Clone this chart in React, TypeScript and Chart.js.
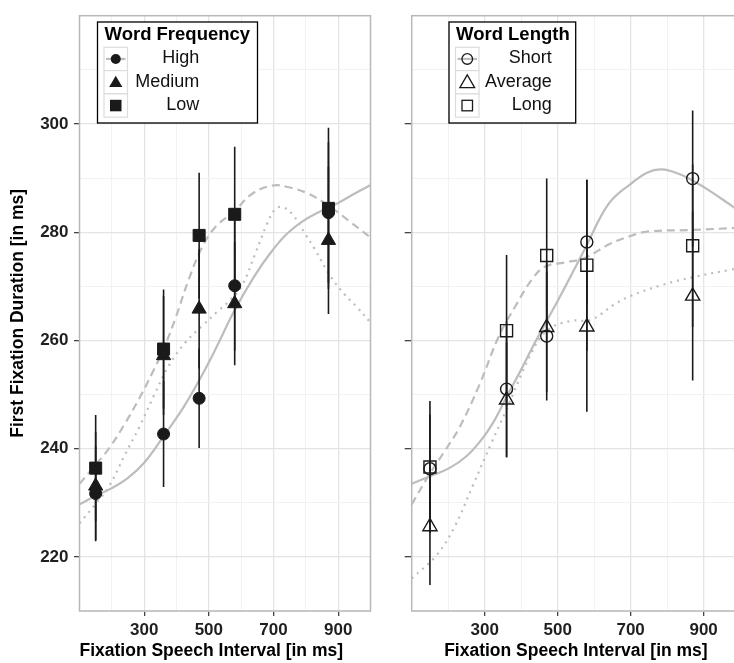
import React, { useEffect, useRef } from 'react';
import { Chart, registerables } from 'chart.js';

Chart.register(...registerables);

const FONT = "'Liberation Sans', Arial, Helvetica, sans-serif";
const INK = '#1a1a1a';
const FIT = '#bdbdbd';
const TEXT = '#1f1f1f';

// ---------- data ----------
const intervals = [150, 360, 470, 580, 870];
const xTickLabels = [300, 500, 700, 900];
const yTickLabels = [220, 240, 260, 280, 300];

// Word Frequency panel
const freqLabels = ['High', 'Medium', 'Low'];
const freqHigh = [231.7, 242.7, 249.3, 270.1, 283.6];
const freqHighErr = [8.8, 9.8, 9.2, 12, 13];
const freqMedium = [233.1, 257.2, 265.8, 266.8, 278.5];
const freqMediumErr = [10, 11, 11, 11.4, 13.6];
const freqLow = [236.4, 258.4, 279.4, 283.3, 284.4];
const freqLowErr = [9.8, 11, 11.6, 12.5, 14.9];

const freqHighFitX = [100, 150, 200, 250, 300, 360, 420, 470, 520, 580, 640, 690, 740, 790, 840, 900, 950, 1000];
const freqHighFitY = [229.7, 231.3, 232.7, 234.6, 237.4, 242.3, 247.5, 252.6, 258.3, 265.6, 271.8, 276.1, 279.6, 282, 283.7, 285.4, 287.1, 288.7];
const freqMediumFitX = [100, 150, 192, 238, 285, 331, 377, 430, 480, 526, 565, 603, 644, 680, 706, 730, 760, 800, 826, 877, 920, 959, 1000];
const freqMediumFitY = [226.2, 229.8, 233.1, 238.6, 244, 249.9, 255.4, 259.8, 262.7, 265.3, 267.4, 270.2, 276.1, 281.5, 284.3, 284.6, 283.2, 279.5, 277, 271.8, 268.5, 266.1, 263.3];
const freqLowFitX = [100, 148, 192, 238, 285, 326, 360, 398, 438, 480, 521, 578, 634, 696, 747, 808, 870, 931, 1000];
const freqLowFitY = [233.5, 236.9, 240.1, 244.4, 249.3, 254.1, 258.4, 264.3, 271.3, 277.3, 281, 283.8, 287.1, 288.6, 288.3, 287.1, 284.9, 282.2, 279];

// Word Length panel
const lenLabels = ['Short', 'Average', 'Long'];
const lenShort = [236.3, 251, 260.8, 278.2, 289.9];
const lenShortErr = [10, 12.6, 11.9, 11.5, 12.6];
const lenAverage = [225.6, 249, 262.4, 262.5, 268.2];
const lenAverageErr = [10.8, 10.6, 12, 15.7, 15.6];
const lenLong = [236.6, 261.8, 275.7, 273.9, 277.5];
const lenLongErr = [12.2, 14, 14.2, 15.8, 15];

const lenShortFitX = [100, 150, 203, 250, 294, 330, 360, 400, 430, 470, 500, 540, 582, 620, 650, 700, 745, 785, 835, 871, 920, 970, 1000];
const lenShortFitY = [233.5, 234.9, 236.4, 238.6, 241.9, 245.6, 249.6, 254.6, 258.6, 263.6, 267.3, 272.4, 277.9, 283.1, 286.1, 288.9, 291, 291.6, 290.7, 289.5, 287.5, 285.2, 283.8];
const lenAverageFitX = [100, 168, 217, 267, 320, 357, 429, 474, 537, 591, 654, 699, 789, 879, 969, 1000];
const lenAverageFitY = [216, 220.3, 225.5, 233.1, 241.3, 246.8, 257.8, 262, 263.6, 263.8, 266.6, 268.2, 270.3, 271.8, 273, 273.4];
const lenLongFitX = [100, 148, 190, 230, 285, 339, 384, 429, 465, 519, 573, 645, 700, 744, 861, 1000];
const lenLongFitY = [229.7, 235.2, 239.5, 243.8, 251.7, 260.8, 266.3, 271.2, 273.6, 274.4, 275.2, 277.9, 279.3, 280.1, 280.4, 280.8];

// ---------- helpers ----------
function errorBars(values: number[], errs: number[]) {
  const out: any[] = [];
  intervals.forEach((x, i) => {
    out.push({ x, y: values[i] - errs[i] }, { x, y: values[i] + errs[i] }, { x, y: null });
  });
  return out;
}

const framePlugin = {
  id: 'panelFrame',
  beforeDatasetsDraw(chart: any) {
    const { ctx, chartArea } = chart;
    ctx.save();
    ctx.strokeStyle = '#b8b8b8';
    ctx.lineWidth = 1.5;
    ctx.strokeRect(chartArea.left, chartArea.top, chartArea.right - chartArea.left, chartArea.bottom - chartArea.top);
    ctx.restore();
  },
};

type Series = { values: number[]; errors: number[]; style: string };
type Fit = { x: number[]; y: number[]; dash: number[] };

function buildConfig(opts: {
  series: Series[];
  fits: Fit[];
  filled: boolean;
  yAxisWidth: number;
  padRight: number;
  showYLabels: boolean;
  titleAlign: 'start' | 'center';
}) {
  const datasets: any[] = [];
  opts.series.forEach((s) => {
    datasets.push({
      type: 'line',
      data: intervals.map((x, i) => ({ x, y: s.values[i] })),
      showLine: false,
      pointStyle: s.style,
      pointRadius: s.style === 'circle' ? 6 : s.style === 'triangle' ? 8.2 : 8.5,
      pointBackgroundColor: opts.filled ? INK : 'rgba(0,0,0,0)',
      pointBorderColor: INK,
      pointBorderWidth: opts.filled ? 1 : 1.4,
      order: 0,
    });
  });
  opts.series.forEach((s) => {
    datasets.push({
      type: 'line',
      data: errorBars(s.values, s.errors),
      borderColor: INK,
      borderWidth: 1.6,
      pointRadius: 0,
      spanGaps: false,
      order: 1,
    });
  });
  opts.fits.forEach((f) => {
    datasets.push({
      type: 'line',
      data: f.x.map((x, i) => ({ x, y: f.y[i] })),
      borderColor: FIT,
      borderWidth: 2.2,
      borderDash: f.dash,
      pointRadius: 0,
      tension: 0.4,
      order: 2,
    });
  });

  const isMajorX = (c: any) => c.tick && xTickLabels.includes(Math.round(c.tick.value));
  const isMajorY = (c: any) => c.tick && yTickLabels.includes(Math.round(c.tick.value));
  const tickFont = { family: FONT, size: 17, weight: 'bold' as const };
  const titleFont = { family: FONT, size: 17.5, weight: 'bold' as const };

  return {
    type: 'line',
    data: { datasets },
    plugins: [framePlugin],
    options: {
      animation: false,
      responsive: false,
      events: [],
      layout: { padding: { top: 11, right: opts.padRight, left: 0, bottom: 0 } },
      plugins: { legend: { display: false }, tooltip: { enabled: false } },
      scales: {
        x: {
          type: 'linear',
          min: 100,
          max: 1000,
          ticks: {
            stepSize: 100,
            autoSkip: false,
            maxRotation: 0,
            color: TEXT,
            font: tickFont,
            padding: 4,
            callback: (v: number) => (xTickLabels.includes(Math.round(v)) ? String(Math.round(v)) : ''),
          },
          grid: {
            color: (c: any) => (isMajorX(c) ? '#e4e4e4' : '#f2f2f2'),
            lineWidth: (c: any) => (isMajorX(c) ? 1.3 : 1),
            tickLength: 5,
            tickWidth: 1.3,
            tickColor: (c: any) => (isMajorX(c) ? '#444' : 'rgba(0,0,0,0)'),
          },
          border: { display: false },
          title: {
            display: true,
            text: 'Fixation Speech Interval [in ms]',
            align: opts.titleAlign,
            color: '#000',
            font: titleFont,
            padding: { top: 0, bottom: 1.8 },
          },
          afterFit: (s: any) => {
            s.height = 52;
          },
        },
        y: {
          type: 'linear',
          min: 210,
          max: 320,
          ticks: {
            stepSize: 10,
            autoSkip: false,
            color: TEXT,
            font: tickFont,
            padding: 5.5,
            callback: (v: number) =>
              opts.showYLabels && yTickLabels.includes(Math.round(v)) ? String(Math.round(v)) : '',
          },
          grid: {
            color: (c: any) => (isMajorY(c) ? '#e4e4e4' : '#f2f2f2'),
            lineWidth: (c: any) => (isMajorY(c) ? 1.3 : 1),
            tickLength: opts.showYLabels ? 5.5 : 7,
            tickWidth: 1.3,
            tickColor: (c: any) => (isMajorY(c) ? '#444' : 'rgba(0,0,0,0)'),
          },
          border: { display: false },
          title: {
            display: opts.showYLabels,
            text: 'First Fixation Duration [in ms]',
            color: '#000',
            font: titleFont,
            padding: { top: 7.5, bottom: 0 },
          },
          afterFit: (s: any) => {
            s.width = opts.yAxisWidth;
          },
        },
      },
    },
  };
}

function ChartCanvas({ config, left, width }: { config: any; left: number; width: number }) {
  const ref = useRef<HTMLCanvasElement>(null);
  useEffect(() => {
    const chart = new Chart(ref.current as HTMLCanvasElement, config);
    return () => chart.destroy();
  }, []);
  return (
    <canvas
      ref={ref}
      width={width}
      height={663}
      style={{ position: 'absolute', left, top: 0, width, height: 663 }}
    />
  );
}

function Legend({
  x,
  w,
  title,
  labels,
  labelRight,
  filled,
}: {
  x: number;
  w: number;
  title: string;
  labels: string[];
  labelRight: number;
  filled: boolean;
}) {
  const top = 22;
  const h = 101;
  const keyX = x + 6.5;
  const keyW = 23.5;
  const keyH = 23.3;
  const rowsY = [47.3, 70.6, 93.9];
  const baselines = [63.4, 86.7, 110];
  const cx = keyX + keyW / 2;
  const fill = filled ? INK : 'none';
  const stroke = INK;
  const sw = filled ? 0 : 1.3;
  return (
    <g>
      <rect x={x} y={top} width={w} height={h} fill="#fff" stroke="#000" strokeWidth={1.3} />
      <text x={x + 7} y={39.5} fontFamily={FONT} fontWeight="bold" fontSize={18.5} fill="#000">
        {title}
      </text>
      {labels.map((lab, i) => {
        const cy = rowsY[i] + keyH / 2;
        let sym: any = null;
        if (i === 0) {
          sym = (
            <g>
              <line x1={keyX + 2} x2={keyX + keyW - 2} y1={cy} y2={cy} stroke={FIT} strokeWidth={2.2} />
              <circle cx={cx} cy={cy} r={filled ? 5 : 5.3} fill={fill} stroke={stroke} strokeWidth={sw} />
            </g>
          );
        } else if (i === 1) {
          const r = filled ? 6.6 : 7.4;
          sym = (
            <polygon
              points={`${cx},${cy - r} ${cx - r},${cy + r * 0.72} ${cx + r},${cy + r * 0.72}`}
              fill={fill}
              stroke={stroke}
              strokeWidth={sw}
            />
          );
        } else {
          const s = filled ? 11.5 : 10.5;
          sym = <rect x={cx - s / 2} y={cy - s / 2} width={s} height={s} fill={fill} stroke={stroke} strokeWidth={sw} />;
        }
        return (
          <g key={lab}>
            <rect x={keyX} y={rowsY[i]} width={keyW} height={keyH} fill="#fff" stroke="#dcdcdc" strokeWidth={1.2} />
            {sym}
            <text x={labelRight} y={baselines[i]} textAnchor="end" fontFamily={FONT} fontSize={18} fill="#111">
              {lab}
            </text>
          </g>
        );
      })}
    </g>
  );
}

export default function App() {
  const leftConfig = buildConfig({
    series: [
      { values: freqHigh, errors: freqHighErr, style: 'circle' },
      { values: freqMedium, errors: freqMediumErr, style: 'triangle' },
      { values: freqLow, errors: freqLowErr, style: 'rect' },
    ],
    fits: [
      { x: freqHighFitX, y: freqHighFitY, dash: [] },
      { x: freqMediumFitX, y: freqMediumFitY, dash: [2, 5] },
      { x: freqLowFitX, y: freqLowFitY, dash: [8, 5] },
    ],
    filled: true,
    yAxisWidth: 79.5,
    padRight: 8.5,
    showYLabels: true,
    titleAlign: 'start',
  });
  const rightConfig = buildConfig({
    series: [
      { values: lenShort, errors: lenShortErr, style: 'circle' },
      { values: lenAverage, errors: lenAverageErr, style: 'triangle' },
      { values: lenLong, errors: lenLongErr, style: 'rect' },
    ],
    fits: [
      { x: lenShortFitX, y: lenShortFitY, dash: [] },
      { x: lenAverageFitX, y: lenAverageFitY, dash: [2, 5] },
      { x: lenLongFitX, y: lenLongFitY, dash: [8, 5] },
    ],
    filled: false,
    yAxisWidth: 31.7,
    padRight: 5.3,
    showYLabels: false,
    titleAlign: 'center',
  });

  return (
    <div
      style={{
        position: 'fixed',
        left: 0,
        top: 0,
        width: 734,
        height: 663,
        overflow: 'hidden',
        background: '#fff',
      }}
    >
      <ChartCanvas config={leftConfig} left={0} width={380} />
      <ChartCanvas config={rightConfig} left={380} width={370} />
      <svg
        width={734}
        height={663}
        style={{ position: 'absolute', left: 0, top: 0, pointerEvents: 'none' }}
      >
        <Legend x={97.5} w={160} title="Word Frequency" labels={freqLabels} labelRight={199.3} filled={true} />
        <Legend x={449} w={126.7} title="Word Length" labels={lenLabels} labelRight={551.7} filled={false} />
      </svg>
    </div>
  );
}
